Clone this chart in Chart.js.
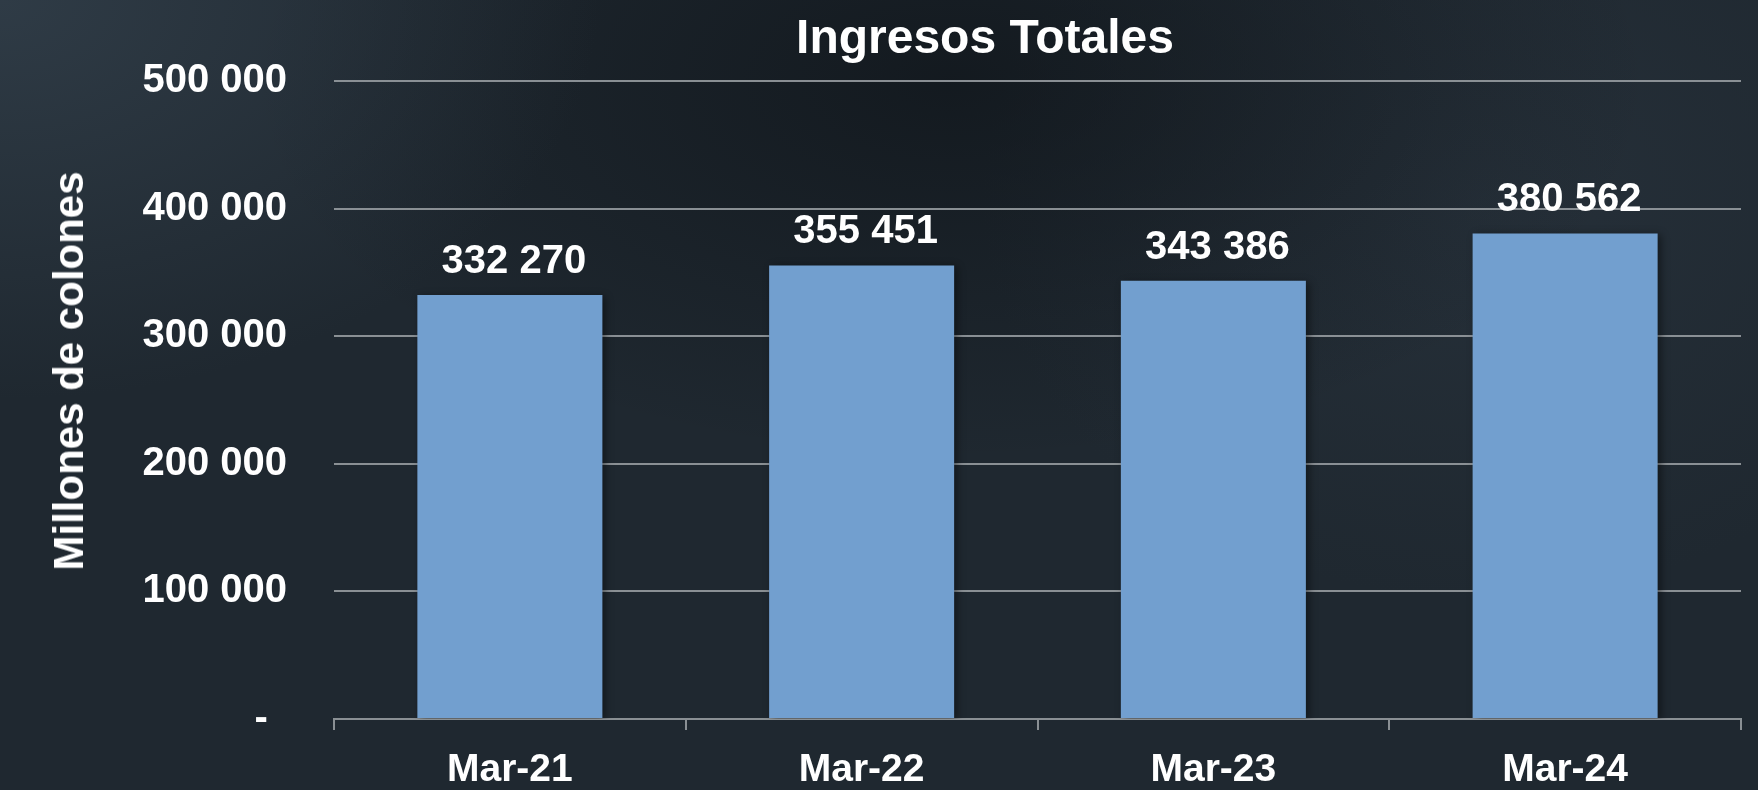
<!DOCTYPE html>
<html>
<head>
<meta charset="utf-8">
<script src="https://cdn.jsdelivr.net/npm/chart.js@4.4.0/dist/chart.umd.min.js"></script>
<style>
    html, body { margin: 0; padding: 0; }
    body {
        width: 1758px; height: 790px; overflow: hidden; position: relative;
        font-family: "Liberation Sans", Arial, sans-serif;
        background:
            radial-gradient(ellipse 600px 400px at 0px 0px, rgba(60,75,88,0.55), rgba(60,75,88,0) 100%),
            radial-gradient(ellipse 700px 380px at 950px 80px, rgba(10,14,18,0.55), rgba(10,14,18,0) 100%),
            radial-gradient(ellipse 500px 400px at 1480px 200px, rgba(50,62,74,0.35), rgba(50,62,74,0) 100%),
            #1f2830;
    }
    #wrap { position: absolute; left: 0; top: 0; width: 1758px; height: 790px; }
    .title {
        position: absolute; left: 985px; top: 36px; transform: translate(-50%, -50%);
        color: #fff; font-weight: bold; font-size: 48px; white-space: nowrap;
    }
    .ytitle {
        position: absolute; left: 69px; top: 371px; transform: translate(-50%, -50%) rotate(-90deg);
        color: #fff; font-weight: bold; font-size: 42px; white-space: nowrap;
    }
</style>
</head>
<body>
<div id="wrap"><canvas id="chart"></canvas></div>
<div class="title">Ingresos Totales</div>
<div class="ytitle">Millones de colones</div>
<script>
const categories = ['Mar-21', 'Mar-22', 'Mar-23', 'Mar-24'];
const ingresos = [332270, 355451, 343386, 380562];
const yTicks = [0, 100000, 200000, 300000, 400000, 500000];

const fmt = (v) => v === 0 ? '- \u2009' : String(v).replace(/\B(?=(\d{3})+(?!\d))/g, ' ');

// sombra ligera de las barras
const shadowPlugin = {
    id: 'barShadow',
    beforeDatasetsDraw(chart) {
        const ctx = chart.ctx;
        ctx.save();
        ctx.shadowColor = 'rgba(0,0,0,0.45)';
        ctx.shadowBlur = 8;
        ctx.shadowOffsetX = 3;
        ctx.shadowOffsetY = 2;
    },
    afterDatasetsDraw(chart) { chart.ctx.restore(); }
};

// etiquetas de valor sobre cada barra
const labelPlugin = {
    id: 'valueLabels',
    afterDatasetsDraw(chart) {
        const ctx = chart.ctx;
        const meta = chart.getDatasetMeta(0);
        ctx.save();
        ctx.fillStyle = '#ffffff';
        ctx.font = 'bold 40px "Liberation Sans", Arial, sans-serif';
        ctx.textAlign = 'center';
        ctx.textBaseline = 'alphabetic';
        meta.data.forEach((bar, i) => {
            ctx.fillText(fmt(ingresos[i]), bar.x + 4, bar.y - 22);
        });
        ctx.restore();
    }
};

const gridColor = 'rgba(150,155,160,0.9)';

new Chart(document.getElementById('chart'), {
    type: 'bar',
    data: {
        labels: categories,
        datasets: [{
            data: ingresos,
            backgroundColor: '#729fcf',
            borderWidth: 0,
            categoryPercentage: 1,
            barPercentage: 0.526
        }]
    },
    options: {
        responsive: true,
        maintainAspectRatio: false,
        animation: false,
        layout: { padding: { left: 0, right: 17, top: 81, bottom: 0 } },
        plugins: { legend: { display: false }, tooltip: { enabled: false } },
        scales: {
            x: {
                offset: true,
                grid: { offset: true, drawOnChartArea: false, drawTicks: true, tickLength: 11, color: gridColor, lineWidth: 2 },
                border: { display: true, color: gridColor, width: 2 },
                ticks: {
                    color: '#ffffff', padding: 17,
                    font: { family: '"Liberation Sans", Arial, sans-serif', size: 39, weight: 'bold' }
                },
                afterFit: (axis) => { axis.height = 71; }
            },
            y: {
                min: 0, max: 500000,
                afterBuildTicks: (axis) => { axis.ticks = yTicks.map(v => ({ value: v })); },
                grid: { drawTicks: false, color: (c) => c.tick.value === 0 ? 'rgba(0,0,0,0)' : gridColor, lineWidth: 2 },
                border: { display: false },
                ticks: {
                    color: '#ffffff', padding: 47,
                    font: { family: '"Liberation Sans", Arial, sans-serif', size: 40, weight: 'bold' },
                    callback: (v) => fmt(v)
                },
                afterFit: (axis) => { axis.width = 334; }
            }
        }
    },
    plugins: [shadowPlugin, labelPlugin]
});
</script>
</body>
</html>
